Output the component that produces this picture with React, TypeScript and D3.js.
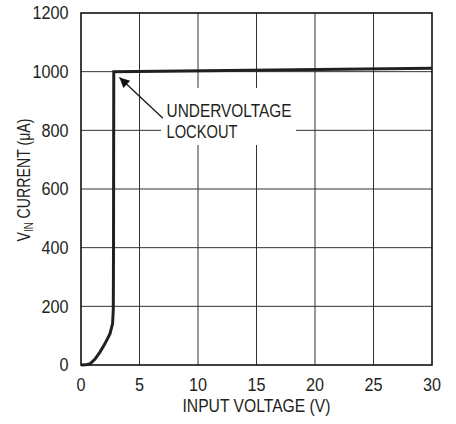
import React from "react";
import * as d3 from "d3";

// curve: input voltage (V) vs VIN current (uA)
const voltage = [0, 0.4, 0.77, 1.2, 1.62, 2.05, 2.48, 2.7, 2.76, 2.78, 2.8, 30];
const current = [0, 0.5, 4, 20, 44, 73, 107, 141, 190, 400, 1000, 1012];

const xTicks = [0, 5, 10, 15, 20, 25, 30];
const yTicks = [0, 200, 400, 600, 800, 1000, 1200];

// annotation arrow (tail -> tip), data coords
const arrowTail = [7.0, 841];
const arrowTip = [3.29, 980];
const noteLines = ["UNDERVOLTAGE", "LOCKOUT"];

const width = 456,
  height = 424,
  left = 81,
  right = 432,
  top = 13,
  bottom = 365;

const font = "'Liberation Sans', Arial, sans-serif";

const App = () => {
  const x = d3.scaleLinear().domain([0, 30]).range([left, right]);
  const y = d3.scaleLinear().domain([0, 1200]).range([bottom, top]);

  const pts: [number, number][] = voltage.map((v, i) => [v, current[i]]);
  const line = d3
    .line<[number, number]>()
    .x(d => x(d[0]))
    .y(d => y(d[1]));

  const tx = x(arrowTail[0]),
    ty = y(arrowTail[1]),
    hx = x(arrowTip[0]),
    hy = y(arrowTip[1]);

  return (
    <svg
      width={width}
      height={height}
      style={{ position: "absolute", left: 0, top: 0, background: "#fff" }}
    >
      <defs>
        <marker
          id="arr"
          viewBox="0 0 10 10"
          refX="10"
          refY="5"
          markerWidth="12"
          markerHeight="10"
          markerUnits="userSpaceOnUse"
          orient="auto"
        >
          <path d="M0,0 L10,5 L0,10 z" fill="#111" />
        </marker>
      </defs>

      {/* grid */}
      {xTicks.slice(1, -1).map(t => (
        <line key={"gx" + t} x1={x(t)} x2={x(t)} y1={top} y2={bottom} stroke="#333" strokeWidth={1} />
      ))}
      {yTicks.slice(1, -1).map(t => (
        <line key={"gy" + t} x1={left} x2={right} y1={y(t)} y2={y(t)} stroke="#333" strokeWidth={1} />
      ))}

      {/* frame */}
      <rect
        x={left}
        y={top}
        width={right - left}
        height={bottom - top}
        fill="none"
        stroke="#111"
        strokeWidth={1.6}
      />

      {/* annotation */}
      <rect x={161} y={88} width={135} height={57} fill="#fff" />
      <line x1={tx} y1={ty} x2={hx} y2={hy} stroke="#111" strokeWidth={1.2} markerEnd="url(#arr)" />
      {noteLines.map((s, i) => (
        <text
          key={s}
          x={166.5}
          y={116.5 + i * 21}
          fontFamily={font}
          fontSize={17.5}
          fill="#231f20"
          textLength={s.length === 12 ? 125 : 71}
          lengthAdjust="spacingAndGlyphs"
        >
          {s}
        </text>
      ))}

      {/* curve */}
      <path d={line(pts) || ""} fill="none" stroke="#231f20" strokeWidth={3} strokeLinejoin="miter" />

      {/* tick labels */}
      {xTicks.map(t => (
        <text
          key={"tx" + t}
          x={x(t)}
          y={391}
          textAnchor="middle"
          fontFamily={font}
          fontSize={17.5}
          fill="#231f20"
          textLength={String(t).length * 9}
          lengthAdjust="spacingAndGlyphs"
        >
          {t}
        </text>
      ))}
      {yTicks.map(t => (
        <text
          key={"ty" + t}
          x={68.5}
          y={y(t) + 6.3}
          textAnchor="end"
          fontFamily={font}
          fontSize={17.5}
          fill="#231f20"
          textLength={String(t).length * 9}
          lengthAdjust="spacingAndGlyphs"
        >
          {t}
        </text>
      ))}

      {/* axis titles */}
      <text
        x={256.5}
        y={412}
        textAnchor="middle"
        fontFamily={font}
        fontSize={17.5}
        fill="#231f20"
        textLength={148}
        lengthAdjust="spacingAndGlyphs"
      >
        INPUT VOLTAGE (V)
      </text>
      <text
        transform="translate(30,180) rotate(-90)"
        textAnchor="middle"
        fontFamily={font}
        fontSize={17.5}
        fill="#231f20"
        textLength={123}
        lengthAdjust="spacingAndGlyphs"
      >
        V<tspan fontSize={12} dy={3}>IN</tspan>
        <tspan dy={-3}> CURRENT (μA)</tspan>
      </text>
    </svg>
  );
};

export default App;
